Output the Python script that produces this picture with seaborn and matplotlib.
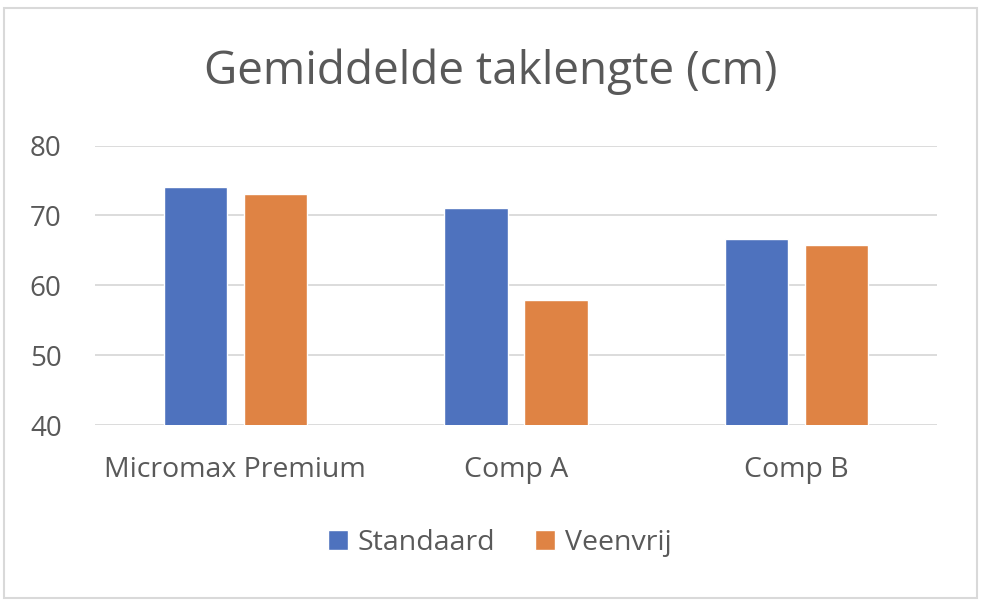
import pandas as pd
import matplotlib.pyplot as plt
import seaborn as sns
from matplotlib.patches import Rectangle

# Données
categories = ["Micromax Premium", "Comp A", "Comp B"]
standaard = [74.0, 71.0, 66.6]
veenvrij = [73.1, 57.9, 65.7]
series = ["Standaard", "Veenvrij"]
y_ticks = [40, 50, 60, 70, 80]

data = pd.DataFrame({
    "categorie": categories * 2,
    "serie": [series[0]] * 3 + [series[1]] * 3,
    "waarde": standaard + veenvrij,
})

sns.set_theme(style="white")
plt.rcParams['font.family'] = ['Open Sans', 'DejaVu Sans']
tekst = "#595959"
raster = "#D9D9D9"

fig = plt.figure(figsize=(9.86, 6.06), dpi=100)
ax = fig.add_axes([95 / 986, 1 - 425 / 606, 842 / 986, (425 - 145.5) / 606])

sns.barplot(data=data, x="categorie", y="waarde", hue="serie",
            palette=["#4E72BE", "#DF8344"], width=0.57, gap=0.21,
            saturation=1, ax=ax, legend=True, zorder=3)

ax.set_ylim(40, 80)
ax.set_yticks(y_ticks)
ax.set_xlim(-0.5, 2.5)
ax.grid(axis="y", color=raster, linewidth=1.3, zorder=0)
ax.set_axisbelow(True)
for s in ax.spines.values():
    s.set_visible(False)
ax.set_xlabel("")
ax.set_ylabel("")
ax.tick_params(axis="y", labelsize=20, labelcolor=tekst, pad=24, length=0)
ax.tick_params(axis="x", labelsize=20.5, labelcolor=tekst, pad=22, length=0)

handles, labels = ax.get_legend_handles_labels()
ax.get_legend().remove()
fig.legend(handles, labels, loc="center", bbox_to_anchor=(500 / 986, 1 - 543 / 606),
           ncol=2, frameon=False, fontsize=20.5, labelcolor=tekst,
           handlelength=0.7, handleheight=0.7, handletextpad=0.35, columnspacing=1.4)

fig.text(491 / 986, 1 - 72 / 606, "Gemiddelde taklengte (cm)", ha="center", va="center",
         fontsize=33, color=tekst)

fig.patches.append(Rectangle((4 / 986, 1 - 598 / 606), 973 / 986, 590 / 606,
                             transform=fig.transFigure, fill=False,
                             edgecolor=raster, linewidth=1.5))

fig.savefig("out.png", dpi=100)
